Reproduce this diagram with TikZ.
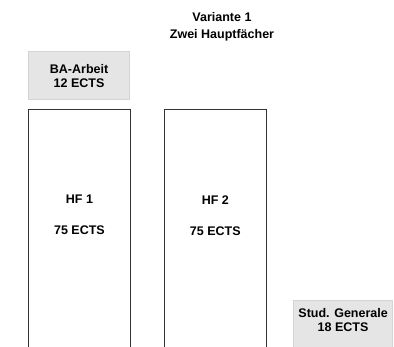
\documentclass[tikz,border=0pt]{standalone}
\usepackage{fontspec}
\setmainfont{Liberation Sans}
\usetikzlibrary{positioning}

\begin{document}
\begin{tikzpicture}[x=1pt,y=1pt,font=\bfseries\fontsize{12.5}{14}\selectfont,
	grey/.style={rectangle,draw=black!17,line width=1.2pt,fill=black!10,minimum width=101pt,align=center,inner sep=0pt},
	hf/.style={rectangle,draw=black!80,line width=0.9pt,minimum width=102pt,minimum height=260pt,inner sep=0pt},
	txt/.style={align=center,inner sep=0pt}]
		\useasboundingbox (0,0) rectangle (394,347);

		\node[txt]											(title)	at (222,320)	{Variante 1\\[3pt]Zwei Hauptf\"acher};
		\node[grey,minimum height=48pt,anchor=north west]	(ba)	at (28,296)		{BA-Arbeit\\12 ECTS};
		\node[hf,node distance=9pt,below=of ba.south west,anchor=north west]	(hf1)	{};
		\node[hf,node distance=33pt,right=of hf1]			(hf2)	{};
		\node[txt,below=86pt of hf1.north]					(hf1txt)	{HF 1\\[17pt]75 ECTS};
		\node[txt,below=86pt of hf2.north]					(hf2txt)	{HF 2\\[17pt]75 ECTS};
		\node[grey,minimum width=99pt,minimum height=70pt,anchor=north west]	(sg)	at (293,47)	{};
		\node[txt,below=8pt of sg.north]					(sgtxt)	{Stud. Generale\\18 ECTS};
	\end{tikzpicture}
\end{document}
